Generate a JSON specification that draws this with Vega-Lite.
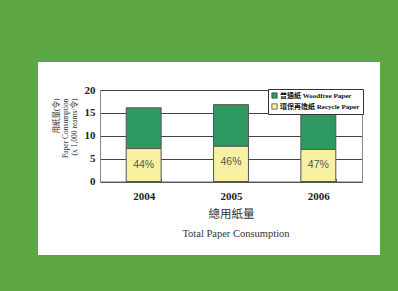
{
  "$schema": "https://vega.github.io/schema/vega-lite/v6.json",
  "width": 342,
  "height": 193,
  "autosize": {"type": "none"},
  "padding": {"left": 38, "top": 62, "right": 18, "bottom": 36},
  "background": "#5ca643",
  "view": {"fill": "white", "stroke": null},
  "data": {
    "values": [
      {"year": "2004", "type": "普通紙 Woodfree Paper", "value": 8.9, "share": 0.44},
      {"year": "2004", "type": "環保再造紙 Recycle Paper", "value": 7.2, "share": 0.44},
      {"year": "2005", "type": "普通紙 Woodfree Paper", "value": 9.1, "share": 0.46},
      {"year": "2005", "type": "環保再造紙 Recycle Paper", "value": 7.7, "share": 0.46},
      {"year": "2006", "type": "普通紙 Woodfree Paper", "value": 8.0, "share": 0.47},
      {"year": "2006", "type": "環保再造紙 Recycle Paper", "value": 7.0, "share": 0.47}
    ]
  },
  "title": {
    "text": "Total Paper Consumption",
    "orient": "bottom",
    "frame": "group",
    "anchor": "middle",
    "offset": -26,
    "dx": 27,
    "font": "Liberation Serif",
    "fontSize": 10.5,
    "fontWeight": "normal",
    "color": "#333333"
  },
  "layer": [
    {
      "mark": {"type": "bar", "stroke": "#555555", "strokeWidth": 1},
      "encoding": {
        "x": {
          "field": "year",
          "type": "nominal",
          "scale": {"range": [62, 324], "paddingInner": 0.6, "paddingOuter": 0.3},
          "axis": {
            "orient": "bottom",
            "offset": -73.5,
            "labelAngle": 0,
            "labelFont": "Liberation Serif",
            "labelFontSize": 11,
            "labelFontWeight": "bold",
            "labelColor": "#222222",
            "labelPadding": 12,
            "ticks": true,
            "tickBand": "extent",
            "tickSize": -3,
            "tickColor": "#555555",
            "domainColor": "#666666",
            "title": "總用紙量",
            "titleFont": "Noto Sans CJK TC",
            "titleFontSize": 11.5,
            "titleFontWeight": "normal",
            "titleColor": "#333333",
            "titlePadding": 7
          }
        },
        "y": {
          "field": "value",
          "type": "quantitative",
          "stack": "zero",
          "scale": {"domain": [0, 20], "range": [119.5, 28], "nice": false},
          "axis": {
            "orient": "left",
            "offset": -62,
            "values": [0, 5, 10, 15, 20],
            "ticks": false,
            "labelFont": "Liberation Serif",
            "labelFontSize": 11,
            "labelFontWeight": "bold",
            "labelColor": "#222222",
            "labelPadding": 5,
            "domainColor": "#888888",
            "grid": true,
            "gridColor": "#444444",
            "gridWidth": 1,
            "gridOpacity": 1,
            "title": ["用紙量(令)", "Paper Consumption", "(x 1,000 reams/令)"],
            "titleFont": "'Liberation Serif', 'Noto Sans CJK TC'",
            "titleFontSize": 7.5,
            "titleFontWeight": "normal",
            "titleColor": "#333333",
            "titleAngle": -90,
            "titleAlign": "right",
            "titleBaseline": "top",
            "titleX": -48,
            "titleY": 36,
            "titleLineHeight": 9
          }
        },
        "color": {
          "field": "type",
          "type": "nominal",
          "scale": {
            "domain": ["普通紙 Woodfree Paper", "環保再造紙 Recycle Paper"],
            "range": ["#2e9a62", "#f7f1a1"]
          },
          "legend": {
            "orient": "none",
            "legendX": 230,
            "legendY": 27,
            "title": null,
            "fillColor": "white",
            "strokeColor": "#333333",
            "padding": 3,
            "rowPadding": 2,
            "symbolType": "square",
            "symbolSize": 28,
            "symbolStrokeColor": "#333333",
            "symbolStrokeWidth": 0.7,
            "symbolOffset": 0,
            "labelOffset": 2,
            "labelFont": "'Liberation Serif', 'Noto Sans CJK TC'",
            "labelFontSize": 7,
            "labelFontWeight": "bold",
            "labelColor": "#111111",
            "labelLimit": 200
          }
        },
        "order": {"field": "type", "sort": "descending"}
      }
    },
    {
      "transform": [{"filter": "datum.type === '環保再造紙 Recycle Paper'"}],
      "mark": {"type": "text", "baseline": "middle", "dy": 16, "font": "Liberation Sans", "fontSize": 10.5, "color": "#555555"},
      "encoding": {
        "x": {"field": "year", "type": "nominal"},
        "y": {
          "field": "value",
          "type": "quantitative",
          "axis": {
            "orient": "right",
            "offset": -18,
            "labels": false,
            "ticks": false,
            "grid": false,
            "title": null,
            "domainColor": "#888888"
          }
        },
        "text": {"field": "share", "type": "quantitative", "format": ".0%"}
      }
    }
  ],
  "resolve": {"axis": {"y": "independent"}}
}
